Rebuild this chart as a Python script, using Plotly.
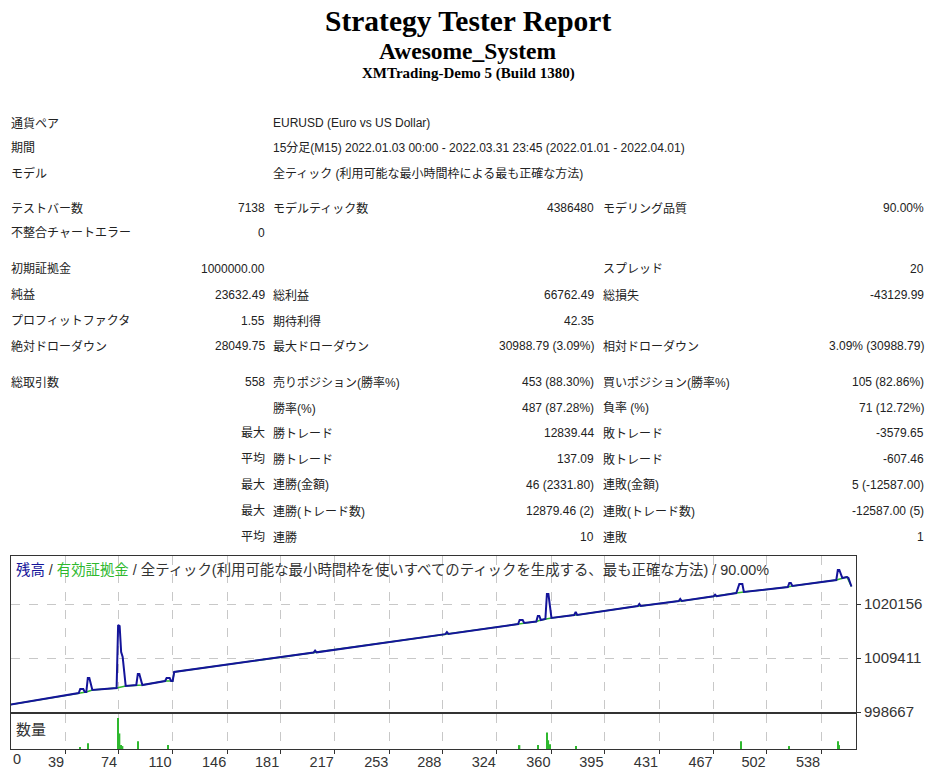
import plotly.graph_objects as go

W, H = 945, 769
FIG_H = 777  # the page is captured about 1% squeezed vertically

# balance curve (trade number, balance)
balance_trade = [0, 48, 49, 51, 52, 53, 54, 55, 57, 73, 74, 75, 76, 77, 79, 86, 87, 88, 90,
                 105, 106, 108, 109, 110, 111, 203, 204, 205, 290, 291, 292, 338, 339, 341, 342,
                 350, 351, 352, 353, 356, 357, 358, 360, 375, 376, 377, 417, 418, 419, 444, 445,
                 446, 467, 468, 469, 482, 484, 486, 487, 516, 517, 518, 519, 548, 549, 550, 552,
                 555, 556, 558]
balance_value = [1000000, 1002448, 1003244, 1003244, 1002647, 1002647, 1005432, 1005432, 1003045,
                 1003443, 1015978, 1015779, 1010606, 1009611, 1003840, 1004039, 1006228, 1006228,
                 1004039, 1004835, 1005432, 1005432, 1004835, 1004835, 1006626, 1010500, 1010900,
                 1010540, 1014150, 1014550, 1014190, 1016177, 1016973, 1016973, 1016376, 1016675,
                 1017769, 1017769, 1016973, 1017172, 1022147, 1022147, 1017371, 1017968, 1018565,
                 1017968, 1019759, 1020157, 1019759, 1020754, 1021152, 1020754, 1021680, 1022000,
                 1021720, 1022346, 1024136, 1024136, 1022545, 1023540, 1024335, 1024335, 1023738,
                 1024932, 1026922, 1026922, 1025330, 1025529, 1025330, 1023632]

# equity curve (only visible where it leaves the balance line)
equity_trade = [0, 48, 53, 57, 73, 79, 86, 90, 105, 110, 111, 338, 342, 350, 353, 356, 360,
                375, 377, 417, 419, 444, 446, 482, 487, 516, 519, 548, 552, 555, 558]
equity_value = [1000000, 1002448, 1002647, 1003045, 1003443, 1003840, 1004039, 1004039, 1004835,
                1004835, 1006626, 1016177, 1016376, 1016675, 1016973, 1017172, 1017371, 1017968,
                1017968, 1019759, 1019759, 1020754, 1020754, 1022346, 1022545, 1023540, 1023738,
                1024932, 1025330, 1025529, 1023632]

# volume per trade (lots)
volume_trade = [49, 54, 74, 75, 76, 77, 87, 107, 339, 351, 357, 358, 359, 376, 485, 517, 549, 550]
volume_lots = [0.5, 1.5, 8, 4, 1, 0.75, 2, 1, 1, 1, 4.25, 2.25, 1.25, 0.75, 2, 0.75, 2, 1]

x_ticks = [0, 39, 74, 110, 146, 181, 217, 253, 288, 324, 360, 395, 431, 467, 502, 538]
y_ticks = [998667, 1009411, 1020156]

# report table
row_y = [123, 148, 174, 208, 233, 269, 295, 321, 346, 382, 408, 433, 459, 485, 511, 537]
label_a = ["通貨ペア", "期間", "モデル", "テストバー数", "不整合チャートエラー", "初期証拠金", "純益",
           "プロフィットファクタ", "絶対ドローダウン", "総取引数", "", "", "", "", "", ""]
value_a = ["", "", "", "7138", "0", "1000000.00", "23632.49", "1.55", "28049.75", "558", "",
           "最大", "平均", "最大", "最大", "平均"]
label_b = ["EURUSD (Euro vs US Dollar)",
           "15分足(M15) 2022.01.03 00:00 - 2022.03.31 23:45 (2022.01.01 - 2022.04.01)",
           "全ティック (利用可能な最小時間枠による最も正確な方法)",
           "モデルティック数", "", "", "総利益", "期待利得", "最大ドローダウン", "売りポジション(勝率%)",
           "勝率(%)", "勝トレード", "勝トレード", "連勝(金額)", "連勝(トレード数)", "連勝"]
value_b = ["", "", "", "4386480", "", "", "66762.49", "42.35", "30988.79 (3.09%)", "453 (88.30%)",
           "487 (87.28%)", "12839.44", "137.09", "46 (2331.80)", "12879.46 (2)", "10"]
label_c = ["", "", "", "モデリング品質", "", "スプレッド", "総損失", "", "相対ドローダウン",
           "買いポジション(勝率%)", "負率 (%)", "敗トレード", "敗トレード", "連敗(金額)", "連敗(トレード数)",
           "連敗"]
value_c = ["", "", "", "90.00%", "", "20", "-43129.99", "", "3.09% (30988.79)", "105 (82.86%)",
           "71 (12.72%)", "-3579.65", "-607.46", "5 (-12587.00)", "-12587.00 (5)", "1"]

FONT = "Liberation Sans, Noto Sans CJK JP, sans-serif"
TXT = "#222222"
BLUE = "#14149a"
GREEN = "#2eb82e"


def px(x, y):
    return x / W, 1 - y / H


fig = go.Figure()
fig.add_trace(go.Scatter(x=equity_trade, y=equity_value, mode="lines",
                         line=dict(color=GREEN, width=1.5), xaxis="x", yaxis="y"))
fig.add_trace(go.Scatter(x=balance_trade, y=balance_value, mode="lines",
                         line=dict(color=BLUE, width=2), xaxis="x", yaxis="y"))
fig.add_trace(go.Bar(x=volume_trade, y=volume_lots, width=0.9, marker_color=GREEN,
                     marker_line_width=0, xaxis="x2", yaxis="y2"))

annotations = []


def note(x, y, text, anchor="left", size=12, family=FONT, color=TXT):
    ax, ay = px(x, y)
    annotations.append(dict(x=ax, y=ay, xref="paper", yref="paper", text=text, showarrow=False,
                            xanchor=anchor, yanchor="middle",
                            font=dict(family=family, size=size, color=color)))


serif = "Liberation Serif, serif"
note(468, 21, "<b>Strategy Tester Report</b>", "center", 29.5, serif, "#000")
note(468, 51, "<b>Awesome_System</b>", "center", 23.5, serif, "#000")
note(468, 73, "<b>XMTrading-Demo 5 (Build 1380)</b>", "center", 15, serif, "#000")

for i, y in enumerate(row_y):
    if label_a[i]:
        note(9, y, label_a[i])
    if value_a[i]:
        note(267, y, value_a[i], "right")
    if label_b[i]:
        note(271, y, label_b[i])
    if value_b[i]:
        note(596, y, value_b[i], "right")
    if label_c[i]:
        note(601, y, label_c[i])
    if value_c[i]:
        note(926, y, value_c[i], "right")

note(14, 570, f'<span style="color:{BLUE}">残高</span> / '
              f'<span style="color:{GREEN}">有効証拠金</span> / '
              "全ティック(利用可能な最小時間枠を使いすべてのティックを生成する、最も正確な方法) / 90.00%",
     size=14.4, color="#333")
note(14, 729, "数量", size=15, color="#333")
note(11, 759, str(x_ticks[0]), size=14.5, color="#333")

x_dom = [11 / W, 856 / W]
main_dom = [(H - 712) / H, (H - 556) / H]
vol_dom = [(H - 749) / H, (H - 714) / H]
x_range = [3.3, 561]
grid = dict(showgrid=True, gridcolor="#c8c8c8", griddash="dash", gridwidth=1)
box = dict(showline=True, mirror=True, linecolor="#333", linewidth=1, zeroline=False)

fig.update_layout(
    width=W, height=FIG_H, autosize=False, margin=dict(l=0, r=0, t=0, b=0),
    paper_bgcolor="white", plot_bgcolor="white", showlegend=False,
    annotations=annotations,
    xaxis=dict(domain=x_dom, range=x_range, anchor="y", tickvals=x_ticks[1:],
               showticklabels=False, ticks="", **grid, **box),
    yaxis=dict(domain=main_dom, range=[998667, 1029708], anchor="x", side="right",
               tickvals=y_ticks, ticktext=[str(v) for v in y_ticks], ticks="outside",
               ticklen=4, tickcolor="#333", tickfont=dict(family=FONT, size=15, color="#333"),
               **grid, **box),
    xaxis2=dict(domain=x_dom, range=x_range, anchor="y2", tickvals=x_ticks[1:],
                ticktext=[str(v) for v in x_ticks[1:]], ticks="outside", ticklen=4,
                tickcolor="#333", ticklabelposition="outside left", ticklabelstandoff=0,
                tickfont=dict(family=FONT, size=14.5, color="#333"), **grid, **box),
    yaxis2=dict(domain=vol_dom, range=[0, 9], anchor="x2", showticklabels=False, ticks="",
                showgrid=False, **box),
)

fig.write_html("out.html", config={"responsive": False, "displayModeBar": False},
               post_script="document.body.style.margin='0';"
                           "document.body.style.overflow='hidden';")
